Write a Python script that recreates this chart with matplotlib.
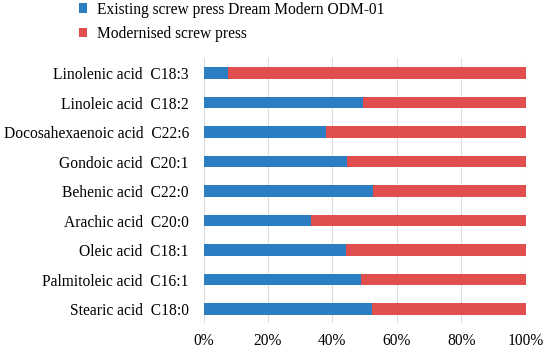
import matplotlib
matplotlib.use("Agg")
import matplotlib.pyplot as plt
import numpy as np

# categories listed from bottom to top
acids = ["Stearic acid", "Palmitoleic acid", "Oleic acid", "Arachic acid",
         "Behenic acid", "Gondoic acid", "Docosahexaenoic acid",
         "Linoleic acid", "Linolenic acid"]
codes = ["C18:0", "C16:1", "C18:1", "C20:0", "C22:0", "C20:1", "C22:6",
         "C18:2", "C18:3"]
existing = [52.3, 48.9, 44.1, 33.2, 52.5, 44.4, 37.9, 49.6, 7.6]
modernised = [100 - v for v in existing]

series_names = ["Existing screw press Dream Modern ODM-01", "Modernised screw press"]
blue = "#2A7EC1"
red = "#E04E4E"

plt.rcParams['font.family'] = ['Liberation Serif', 'DejaVu Serif']
fs = 11.2

fig = plt.figure(figsize=(5.5, 3.56), dpi=100)
ax = fig.add_axes([0.370, 0.093, 0.586, 0.744])

y = np.arange(len(acids))
ax.barh(y, existing, height=0.4, color=blue, label=series_names[0], zorder=3)
ax.barh(y, modernised, left=existing, height=0.4, color=red, label=series_names[1], zorder=3)

ax.set_xlim(0, 100)
ax.set_ylim(-0.47, 8.51)
ax.set_xticks([0, 20, 40, 60, 80, 100])
ax.set_xticklabels([f"{t}%" for t in [0, 20, 40, 60, 80, 100]], fontsize=fs)
ax.set_yticks(y)
ax.set_yticklabels([f"{a}  {c}" for a, c in zip(acids, codes)], fontsize=fs)
ax.tick_params(length=0, pad=10.5)
ax.tick_params(axis='x', pad=7)
ax.grid(axis='x', color='#DCDCDC', linewidth=0.8, zorder=0)
for s in ax.spines.values():
    s.set_visible(False)

fig.legend(loc='upper left', bbox_to_anchor=(0.118, 1.035), frameon=False,
           fontsize=fs, handlelength=0.55, handleheight=0.55,
           handletextpad=0.6, labelspacing=0.55)

fig.savefig("out.png", dpi=100)
